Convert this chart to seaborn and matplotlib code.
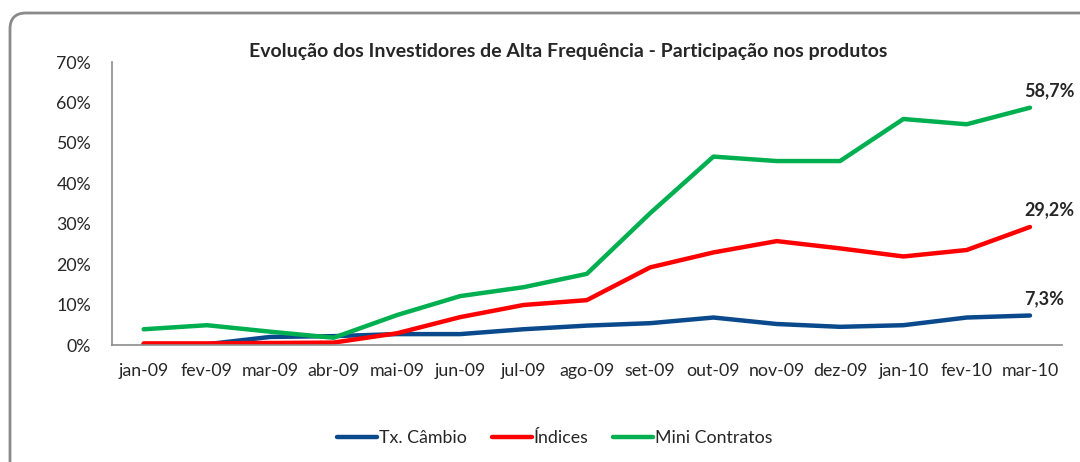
import matplotlib
matplotlib.use('Agg')
import pandas as pd
import seaborn as sns
import matplotlib.pyplot as plt
from matplotlib.patches import FancyBboxPatch
from matplotlib.transforms import IdentityTransform

months = ['jan-09', 'fev-09', 'mar-09', 'abr-09', 'mai-09', 'jun-09', 'jul-09', 'ago-09',
          'set-09', 'out-09', 'nov-09', 'dez-09', 'jan-10', 'fev-10', 'mar-10']
cambio = [0.2, 0.2, 2.0, 2.2, 2.7, 2.7, 3.9, 4.8, 5.4, 6.8, 5.2, 4.5, 4.9, 6.8, 7.3]
indices = [0.4, 0.4, 0.5, 0.6, 2.9, 6.9, 9.9, 11.1, 19.2, 22.9, 25.7, 23.9, 21.9, 23.5, 29.2]
mini = [3.9, 4.9, 3.3, 1.8, 7.4, 12.1, 14.3, 17.6, 32.6, 46.6, 45.5, 45.5, 55.9, 54.6, 58.7]
series = ['Tx. Câmbio', 'Índices', 'Mini Contratos']
colors = ['#0A4A8C', '#FF0000', '#00B050']

df = pd.DataFrame({
    'mes': list(range(len(months))) * 3,
    'valor': [v / 100 for v in cambio + indices + mini],
    'serie': [s for s in series for _ in months],
})

sns.set_style('white')
plt.rcParams['font.family'] = ['Lato', 'DejaVu Sans']

fig = plt.figure(figsize=(10.8, 4.62), dpi=100)
ax = fig.add_axes([0.1037, 0.2532, 0.983 - 0.1037, 0.8658 - 0.2532])

# rounded chart-area border like Excel (pixel coords)
fig.patches.append(FancyBboxPatch((10, -30), 1100, 479, boxstyle='round,pad=0,rounding_size=16',
                                  transform=IdentityTransform(), fill=False, edgecolor='#8a8a8a',
                                  linewidth=2))

sns.lineplot(data=df, x='mes', y='valor', hue='serie', hue_order=series,
             palette=colors, linewidth=3.2, ax=ax, legend=False)

ax.set_xlim(-0.5, len(months) - 0.5)
ax.set_ylim(0, 0.7)
ax.set_yticks([i / 10 for i in range(8)])
ax.set_yticklabels(['%d%%' % (i * 10) for i in range(8)], fontsize=12.8)
ax.set_xticks(range(len(months)))
ax.set_xticklabels(months, fontsize=12.8)
ax.tick_params(axis='x', length=0, pad=13)
ax.tick_params(axis='y', length=0, pad=15)
ax.set_xlabel('')
ax.set_ylabel('')
for side in ['top', 'right']:
    ax.spines[side].set_visible(False)
for side in ['left', 'bottom']:
    ax.spines[side].set_color('#8c8c8c')
    ax.spines[side].set_linewidth(1.2)

last = len(months) - 1
for vals in [mini, indices, cambio]:
    ax.annotate(('%.1f%%' % vals[-1]).replace('.', ','), (last, vals[-1] / 100),
                xytext=(-6, 17), textcoords='offset pixels', ha='left', va='center',
                fontsize=13, fontweight='bold', annotation_clip=False)

fig.text(0.526, 1 - 52 / 462, 'Evolução dos Investidores de Alta Frequência - Participação nos produtos',
         ha='center', va='center', fontsize=14, fontweight='bold')

handles = [plt.Line2D([], [], color=c, linewidth=3.2) for c in colors]
fig.legend(handles, series, loc='center', bbox_to_anchor=(555 / 1080, 1 - 438 / 462), ncol=3,
           frameon=False, fontsize=12.8, handlelength=2.25, handletextpad=0.1, columnspacing=1.4)

fig.savefig('out.png', dpi=100)
